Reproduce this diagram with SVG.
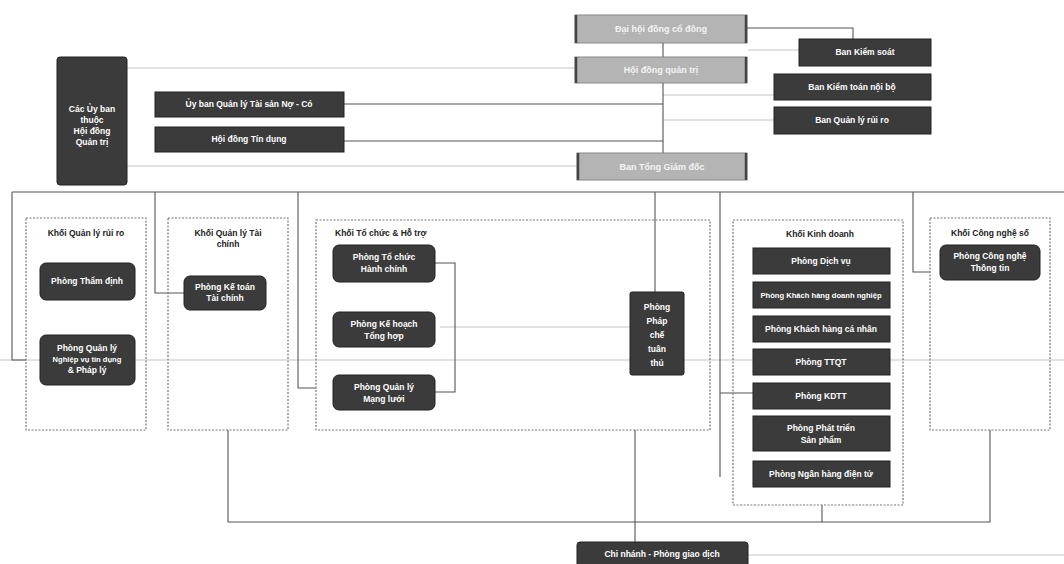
<svg xmlns="http://www.w3.org/2000/svg" width="1064" height="564" viewBox="0 0 1064 564">
<style>
.dk{fill:#3b3b3b;stroke:#222;stroke-width:1}
.gr{fill:#b4b4b4;stroke:#888;stroke-width:1}
.ge{fill:none;stroke:#444;stroke-width:2.5}
.grp{fill:none;stroke:#777;stroke-width:1.2;stroke-dasharray:2 1.5}
.t{font-family:"Liberation Sans",Arial,sans-serif;font-size:8.5px;font-weight:bold;fill:#fff;text-anchor:middle}
.s{font-size:7.6px}
.tg{font-family:"Liberation Sans",Arial,sans-serif;font-size:9px;font-weight:bold;fill:#f4f4f4;text-anchor:middle}
.h{font-family:"Liberation Sans",Arial,sans-serif;font-size:8.5px;font-weight:bold;fill:#222;text-anchor:middle}
.c{fill:none;stroke:#555;stroke-width:1.1}
.f{fill:none;stroke:#c4c4c4;stroke-width:1}
</style>
<rect width="1064" height="564" fill="#fff"/>
<g id="connectors">
<path class="f" d="M0 360H1064"/>
<path class="f" d="M127 68H575M127 166H577"/>
<path class="f" d="M663 95H774M663 120H774M748 50H800"/>
<path class="f" d="M440 327H630"/>
<path class="f" d="M748 555H1064"/>
<path class="c" d="M663 43V57M663 83V153"/>
<path class="c" d="M747 28H853V39"/>
<path class="c" d="M344 104H663M344 141H663"/>
<path class="c" d="M12 192H1064"/>
<path class="c" d="M12 192V360H26"/>
<path class="c" d="M155 192V293H184"/>
<path class="c" d="M298 192V388H316"/>
<path class="c" d="M655 192V292"/>
<path class="c" d="M720 192V477M720 393H753"/>
<path class="c" d="M913 192V272H930"/>
<path class="c" d="M435 263H455V392H435"/>
<path class="c" d="M228 430V522H990V430M822 505V522M635 430V542"/>
</g>
<g id="dhdcd"><rect class="gr" x="575" y="15" width="172" height="28"/><path class="ge" d="M576 15V43M746 15V43"/><text class="tg" x="661" y="32">Đại hội đồng cổ đông</text></g>
<g id="hdqt"><rect class="gr" x="575" y="57" width="172" height="26"/><path class="ge" d="M576 57V83M746 57V83"/><text class="tg" x="661" y="73">Hội đồng quản trị</text></g>
<g id="tgd"><rect class="gr" x="577" y="153" width="170" height="27"/><path class="ge" d="M578 153V180M746 153V180"/><text class="tg" x="662" y="170">Ban Tổng Giám đốc</text></g>
<g id="bks"><rect class="dk" x="799" y="39" width="132" height="27"/><text class="t" x="865" y="55">Ban Kiểm soát</text></g>
<g id="bktnb"><rect class="dk" x="774" y="74" width="157" height="26"/><text class="t" x="852" y="90">Ban Kiểm toán nội bộ</text></g>
<g id="bqlrr"><rect class="dk" x="774" y="107" width="157" height="27"/><text class="t" x="852" y="123">Ban Quản lý rủi ro</text></g>
<g id="uyban"><rect class="dk" x="57" y="57" width="70" height="128" rx="3"/><text class="t" x="92" y="112">Các Ủy ban</text><text class="t" x="92" y="123">thuộc</text><text class="t" x="92" y="134">Hội đồng</text><text class="t" x="92" y="145">Quản trị</text></g>
<g id="alco"><rect class="dk" x="155" y="92" width="189" height="25"/><text class="t" x="249" y="107">Ủy ban Quản lý Tài sản Nợ - Có</text></g>
<g id="hdtd"><rect class="dk" x="155" y="127" width="189" height="25"/><text class="t" x="249" y="142">Hội đồng Tín dụng</text></g>
<g id="khoi1"><rect class="grp" x="26" y="218" width="120" height="212"/><text class="h" x="86" y="236">Khối Quản lý rủi ro</text>
<rect class="dk" x="40" y="263" width="95" height="37" rx="6"/><text class="t" x="87" y="284">Phòng Thẩm định</text>
<rect class="dk" x="40" y="335" width="95" height="50" rx="6"/><text class="t" x="87" y="351">Phòng Quản lý</text><text class="t s" x="87" y="362">Nghiệp vụ tín dụng</text><text class="t" x="87" y="373">&amp; Pháp lý</text></g>
<g id="khoi2"><rect class="grp" x="168" y="218" width="120" height="212"/><text class="h" x="228" y="236">Khối Quản lý Tài</text><text class="h" x="228" y="247">chính</text>
<rect class="dk" x="184" y="276" width="82" height="34" rx="6"/><text class="t" x="225" y="290">Phòng Kế toán</text><text class="t" x="225" y="301">Tài chính</text></g>
<g id="khoi3"><rect class="grp" x="316" y="220" width="394" height="210"/><text class="h" x="335" y="236" style="text-anchor:start">Khối Tổ chức &amp; Hỗ trợ</text>
<rect class="dk" x="333" y="245" width="102" height="37" rx="6"/><text class="t" x="384" y="260">Phòng Tổ chức</text><text class="t" x="384" y="272">Hành chính</text>
<rect class="dk" x="333" y="312" width="102" height="35" rx="6"/><text class="t" x="384" y="327">Phòng Kế hoạch</text><text class="t" x="384" y="339">Tổng hợp</text>
<rect class="dk" x="333" y="375" width="102" height="35" rx="6"/><text class="t" x="384" y="390">Phòng Quản lý</text><text class="t" x="384" y="402">Mạng lưới</text>
<rect class="dk" x="630" y="292" width="54" height="83" rx="2"/><text class="t" x="657" y="310">Phòng</text><text class="t" x="657" y="324">Pháp</text><text class="t" x="657" y="338">chế</text><text class="t" x="657" y="352">tuân</text><text class="t" x="657" y="366">thủ</text></g>
<g id="khoi4"><rect class="grp" x="733" y="220" width="170" height="285"/><text class="h" x="820" y="237">Khối Kinh doanh</text>
<rect class="dk" x="753" y="248" width="137" height="26"/><text class="t" x="821" y="264">Phòng Dịch vụ</text>
<rect class="dk" x="753" y="282" width="137" height="26"/><text class="t s" x="821" y="298">Phòng Khách hàng doanh nghiệp</text>
<rect class="dk" x="753" y="316" width="137" height="26"/><text class="t" x="821" y="332">Phòng Khách hàng cá nhân</text>
<rect class="dk" x="753" y="349" width="137" height="26"/><text class="t" x="821" y="365">Phòng TTQT</text>
<rect class="dk" x="753" y="383" width="137" height="26"/><text class="t" x="821" y="399">Phòng KDTT</text>
<rect class="dk" x="753" y="416" width="137" height="35"/><text class="t" x="821" y="431">Phòng Phát triển</text><text class="t" x="821" y="443">Sản phẩm</text>
<rect class="dk" x="753" y="461" width="137" height="26"/><text class="t" x="821" y="477">Phòng Ngân hàng điện tử</text></g>
<g id="khoi5"><rect class="grp" x="930" y="218" width="120" height="212"/><text class="h" x="990" y="236">Khối Công nghệ số</text>
<rect class="dk" x="940" y="245" width="100" height="35" rx="6"/><text class="t" x="990" y="259">Phòng Công nghệ</text><text class="t" x="990" y="271">Thông tin</text></g>
<g id="chinhanh"><rect class="dk" x="577" y="542" width="171" height="26" rx="3"/><text class="t" x="662" y="557">Chi nhánh - Phòng giao dịch</text></g>
</svg>
